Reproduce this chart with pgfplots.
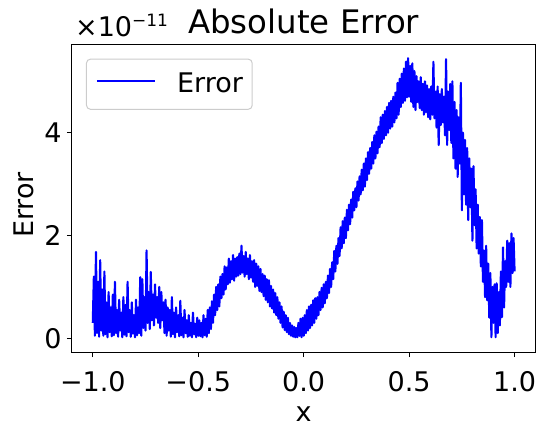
\documentclass[border=0pt]{standalone}
\usepackage{pgfplots}
\pgfplotsset{compat=1.18}
\usepackage{fontspec}
\setmainfont{DejaVu Sans}
\pgfplotstableread{
x y
-1.000 0.30
-0.995 1.20
-0.990 0.05
-0.985 1.68
-0.980 0.10
-0.975 1.10
-0.970 0.03
-0.965 1.52
-0.960 0.15
-0.955 0.95
-0.950 0.05
-0.945 1.30
-0.940 0.08
-0.935 0.70
-0.930 0.02
-0.925 0.90
-0.920 0.12
-0.915 0.60
-0.910 0.04
-0.905 0.85
-0.900 0.06
-0.895 1.10
-0.890 0.10
-0.885 0.55
-0.880 0.03
-0.875 0.75
-0.870 0.15
-0.865 0.50
-0.860 0.02
-0.855 0.80
-0.850 0.07
-0.845 0.65
-0.840 0.04
-0.835 1.10
-0.830 0.12
-0.825 0.55
-0.820 0.03
-0.815 0.70
-0.810 0.09
-0.805 0.45
-0.800 0.02
-0.795 0.75
-0.790 0.06
-0.785 0.60
-0.780 0.10
-0.775 1.19
-0.770 0.05
-0.765 1.15
-0.760 0.20
-0.755 0.80
-0.750 0.15
-0.745 1.71
-0.740 0.30
-0.735 0.90
-0.730 0.18
-0.725 1.29
-0.720 0.35
-0.715 0.85
-0.710 0.25
-0.705 1.05
-0.700 0.40
-0.695 0.80
-0.690 0.30
-0.685 1.00
-0.680 0.20
-0.675 0.90
-0.670 0.35
-0.665 0.70
-0.660 0.10
-0.655 0.75
-0.650 0.05
-0.645 0.60
-0.640 0.15
-0.635 0.55
-0.630 0.03
-0.625 0.80
-0.620 0.08
-0.615 0.50
-0.610 0.02
-0.605 0.60
-0.600 0.12
-0.595 0.45
-0.590 0.04
-0.585 0.73
-0.580 0.06
-0.575 0.40
-0.570 0.02
-0.565 0.55
-0.560 0.10
-0.555 0.35
-0.550 0.03
-0.545 0.45
-0.540 0.05
-0.535 0.30
-0.530 0.02
-0.525 0.50
-0.520 0.08
-0.515 0.28
-0.510 0.02
-0.505 0.40
-0.500 0.05
-0.495 0.35
-0.490 0.04
-0.485 0.30
-0.480 0.02
-0.475 0.45
-0.470 0.06
-0.465 0.38
-0.460 0.03
-0.455 0.55
-0.450 0.10
-0.445 0.60
-0.440 0.18
-0.435 0.72
-0.430 0.30
-0.425 0.85
-0.420 0.45
-0.415 1.00
-0.410 0.55
-0.405 1.05
-0.400 0.62
-0.395 1.20
-0.390 0.78
-0.385 1.25
-0.380 0.85
-0.375 1.40
-0.370 0.95
-0.365 1.38
-0.360 1.05
-0.355 1.55
-0.350 1.08
-0.345 1.50
-0.340 1.15
-0.335 1.62
-0.330 1.12
-0.325 1.55
-0.320 1.20
-0.315 1.58
-0.310 1.22
-0.305 1.65
-0.300 1.25
-0.295 1.80
-0.290 1.28
-0.285 1.60
-0.280 1.20
-0.275 1.68
-0.270 1.25
-0.265 1.55
-0.260 1.15
-0.255 1.62
-0.250 1.18
-0.245 1.50
-0.240 1.10
-0.235 1.52
-0.230 1.00
-0.225 1.45
-0.220 1.02
-0.215 1.40
-0.210 0.92
-0.205 1.35
-0.200 0.90
-0.195 1.25
-0.190 0.82
-0.185 1.22
-0.180 0.75
-0.175 1.15
-0.170 0.70
-0.165 1.13
-0.160 0.62
-0.155 1.02
-0.150 0.58
-0.145 0.95
-0.140 0.50
-0.135 0.88
-0.130 0.45
-0.125 0.80
-0.120 0.38
-0.115 0.70
-0.110 0.30
-0.105 0.62
-0.100 0.21
-0.095 0.52
-0.090 0.16
-0.085 0.45
-0.080 0.12
-0.075 0.40
-0.070 0.08
-0.065 0.30
-0.060 0.05
-0.055 0.25
-0.050 0.03
-0.045 0.22
-0.040 0.02
-0.035 0.20
-0.030 0.02
-0.025 0.30
-0.020 0.05
-0.015 0.38
-0.010 0.02
-0.005 0.40
0.000 0.05
0.005 0.45
0.010 0.10
0.015 0.55
0.020 0.15
0.025 0.62
0.030 0.20
0.035 0.65
0.040 0.25
0.045 0.74
0.050 0.30
0.055 0.78
0.060 0.38
0.065 0.80
0.070 0.45
0.075 0.90
0.080 0.55
0.085 0.98
0.090 0.60
0.095 1.05
0.100 0.68
0.105 1.10
0.110 0.78
0.115 1.22
0.120 0.88
0.125 1.35
0.130 1.00
0.135 1.48
0.140 1.15
0.145 1.70
0.150 1.30
0.155 1.80
0.160 1.45
0.165 1.95
0.170 1.60
0.175 2.16
0.180 1.75
0.185 2.28
0.190 1.85
0.195 2.35
0.200 1.95
0.205 2.50
0.210 2.10
0.215 2.60
0.220 2.22
0.225 2.70
0.230 2.35
0.235 2.85
0.240 2.49
0.245 2.92
0.250 2.55
0.255 3.05
0.260 2.68
0.265 3.15
0.270 2.80
0.275 3.28
0.280 2.88
0.285 3.40
0.290 2.95
0.295 3.50
0.300 3.08
0.305 3.62
0.310 3.20
0.315 3.70
0.320 3.30
0.325 3.82
0.330 3.40
0.335 3.95
0.340 3.50
0.345 4.02
0.350 3.60
0.355 4.12
0.360 3.72
0.365 4.30
0.370 3.80
0.375 4.35
0.380 3.88
0.385 4.42
0.390 3.95
0.395 4.50
0.400 4.00
0.405 4.58
0.410 4.08
0.415 4.62
0.420 4.12
0.425 4.70
0.430 4.20
0.435 4.78
0.440 4.28
0.445 4.97
0.450 4.35
0.455 5.05
0.460 4.50
0.465 5.15
0.470 4.58
0.475 5.25
0.480 4.62
0.485 5.38
0.490 4.69
0.495 5.45
0.500 4.70
0.505 5.30
0.510 4.60
0.515 5.35
0.520 4.50
0.525 5.20
0.530 4.44
0.535 5.10
0.540 4.60
0.545 5.00
0.550 4.48
0.555 5.08
0.560 4.44
0.565 4.95
0.570 4.35
0.575 5.00
0.580 4.40
0.585 4.92
0.590 4.30
0.595 4.85
0.600 4.26
0.605 4.90
0.610 4.35
0.615 5.38
0.620 4.28
0.625 4.80
0.630 4.10
0.635 4.90
0.640 3.76
0.645 4.75
0.650 4.15
0.655 4.85
0.660 4.20
0.665 4.70
0.670 3.95
0.675 5.43
0.680 3.76
0.685 4.80
0.690 4.05
0.695 4.95
0.700 3.80
0.705 5.00
0.710 3.50
0.715 4.60
0.720 3.30
0.725 4.44
0.730 3.14
0.735 4.30
0.740 3.40
0.745 4.97
0.750 2.49
0.755 4.00
0.760 2.80
0.765 3.86
0.770 2.60
0.775 3.70
0.780 2.30
0.785 3.50
0.790 2.55
0.795 3.30
0.800 1.90
0.805 3.35
0.810 2.20
0.815 2.90
0.820 1.75
0.825 2.60
0.830 1.65
0.835 2.36
0.840 1.40
0.845 2.30
0.850 1.10
0.855 1.71
0.860 0.80
0.865 1.80
0.870 0.74
0.875 1.45
0.880 0.40
0.885 1.27
0.890 0.02
0.895 1.00
0.900 0.30
0.905 1.05
0.910 0.02
0.915 1.07
0.920 0.10
0.925 0.90
0.930 0.25
0.935 1.30
0.940 0.41
0.945 1.77
0.950 0.60
0.955 1.50
0.960 1.00
0.965 1.90
0.970 1.10
0.975 1.85
0.980 1.00
0.985 2.04
0.990 1.27
0.995 1.95
1.000 1.30
}\errdata
\definecolor{legframe}{RGB}{204,204,204}
\newcommand{\lbl}{\fontsize{27bp}{32bp}\selectfont}
\begin{document}
\begin{tikzpicture}
\useasboundingbox (-71.7bp,-80.7bp) rectangle (475.3bp,352.3bp);
\begin{axis}[
  at={(0,0)}, anchor=south west,
  width=464bp, height=308bp, scale only axis,
  xmin=-1.1, xmax=1.1, ymin=-0.2725, ymax=5.72,
  axis line style={line width=1.1bp},
  tick pos=left, tick align=outside,
  major tick length=4.9bp,
  every tick/.style={black, line width=1.1bp},
  xtick={-1,-0.5,0,0.5,1},
  xticklabels={−1.0,−0.5,0.0,0.5,1.0},
  ytick={0,2,4}, yticklabels={0,2,4},
  tick label style={font=\lbl, inner sep=0pt},
  every x tick label/.append style={anchor=base, yshift=-34bp},
  every y tick label/.append style={anchor=east, xshift=-5bp},
  xlabel={x}, ylabel={Error},
  every axis x label/.style={at={(axis description cs:0.5,0)}, anchor=base, yshift=-68.7bp, font=\lbl},
  every axis y label/.style={at={(axis description cs:-0.0828,0.478)}, rotate=90, anchor=base, font=\lbl},
  title={Absolute Error},
  every axis title/.style={at={(axis description cs:0.5,1)}, anchor=base, yshift=11bp, font=\fontsize{32.4bp}{38bp}\selectfont},
  legend style={at={(axis description cs:0.0308,0.9535)}, anchor=north west,
    draw=legframe, line width=1bp, rounded corners=4bp, fill=white,
    inner xsep=9.3bp, inner ysep=13.6bp, column sep=21.5bp,
    font=\lbl, nodes={inner sep=0pt, text height=19.7bp, text depth=3.3bp}},
  legend image code/.code={\draw[#1, line width=2.1bp] (0bp,3.5bp) -- (57.7bp,3.5bp);},
  clip=true,
]
\addplot[color={rgb,255:red,0;green,0;blue,255}, line width=2.1bp, line join=round] table[x=x, y=y] {\errdata};
\addlegendentry{Error\hspace{2.5bp}}
\end{axis}
\node[anchor=base west, inner sep=0pt, font=\lbl] at (3.3bp,315.6bp) {×10\raisebox{10bp}{\fontsize{17bp}{20bp}\selectfont −11}};
\end{tikzpicture}
\end{document}
